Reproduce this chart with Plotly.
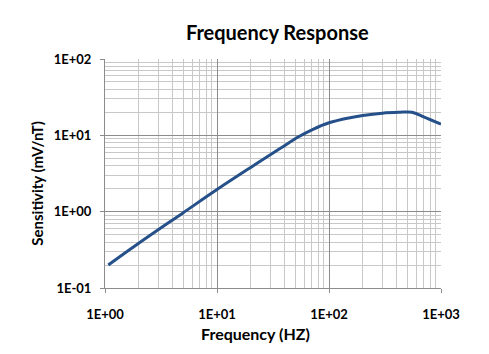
import plotly.graph_objects as go

freq = [1.07, 2, 5, 10, 20, 36.5, 53, 72, 100, 150, 200, 300, 420, 550, 700, 1000]
sens = [0.2, 0.385, 0.97, 1.95, 3.8, 6.7, 9.5, 12.0, 14.6, 16.9, 18.2, 19.5, 20.0, 20.1, 17.5, 14.0]

x_tickvals = [1, 10, 100, 1000]
x_ticktext = ["1E+00", "1E+01", "1E+02", "1E+03"]
y_tickvals = [0.1, 1, 10, 100]
y_ticktext = ["1E-01", "1E+00", "1E+01", "1E+02"]

font_family = "Lato, Open Sans, Liberation Sans, sans-serif"

fig = go.Figure()
fig.add_trace(go.Scatter(
    x=freq, y=sens, mode="lines",
    line=dict(color="#25508a", width=3, shape="spline", smoothing=1.0),
    showlegend=False, hoverinfo="skip",
))

axis_common = dict(
    type="log",
    showgrid=True, gridcolor="#8c8c8c", gridwidth=1,
    showline=True, linecolor="#8c8c8c", linewidth=1,
    ticks="outside", ticklen=4, tickcolor="#8c8c8c",
    tickfont=dict(family=font_family, size=13, color="#000000", weight="bold"),
    zeroline=False,
    minor=dict(dtick="D1", showgrid=True, gridcolor="#c8c8c8", gridwidth=1, ticks=""),
)

fig.update_layout(
    width=489, height=354,
    margin=dict(l=105, r=48, t=59, b=66),
    paper_bgcolor="white", plot_bgcolor="white",
    title=dict(text="<b>Frequency Response</b>", x=0.567, xanchor="center",
               y=1 - 33 / 354, yanchor="middle",
               font=dict(family=font_family, size=20, color="#000000")),
    xaxis=dict(axis_common, range=[0, 3], tickmode="array",
               tickvals=x_tickvals, ticktext=x_ticktext, ticklabelstandoff=10),
    yaxis=dict(axis_common, range=[-1, 2], tickmode="array",
               tickvals=y_tickvals, ticktext=y_ticktext, ticklabelstandoff=6),
    annotations=[
        dict(text="<b>Sensitivity (mV/nT)</b>", xref="paper", yref="paper",
             x=(37 - 105) / 336, y=(288.3 - 184) / 229, xanchor="center", yanchor="middle",
             textangle=-90, showarrow=False,
             font=dict(family=font_family, size=15, color="#000000")),
        dict(text="<b>Frequency (HZ)</b>", xref="paper", yref="paper",
             x=(255 - 105) / 336, y=(288.3 - 334) / 229, xanchor="center", yanchor="middle",
             showarrow=False,
             font=dict(family=font_family, size=16, color="#000000")),
    ],
)

fig.write_html("out.html")
